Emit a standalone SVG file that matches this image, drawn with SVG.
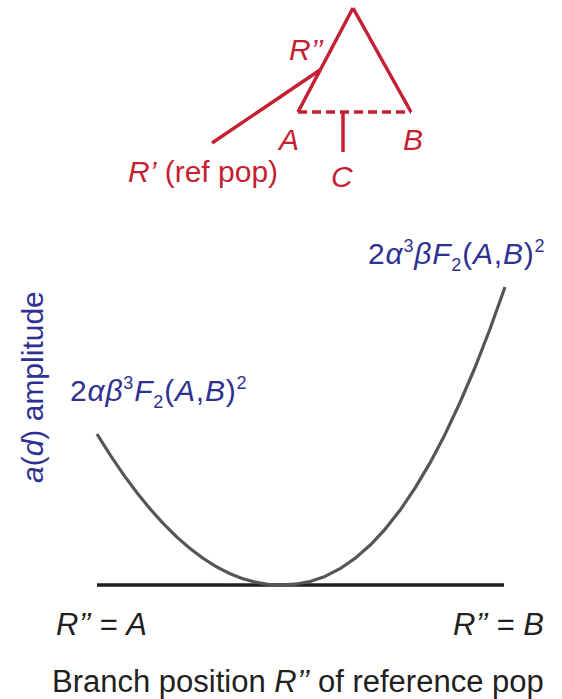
<svg xmlns="http://www.w3.org/2000/svg" width="562" height="699" viewBox="0 0 562 699">
<style>
.red{stroke:#c51f33;stroke-width:3.5;fill:none;stroke-linecap:butt}
.rt{fill:#c51f33;font-family:"Liberation Sans",Arial,sans-serif;font-size:30px}
.bt{fill:#2e3192;font-family:"Liberation Sans",Arial,sans-serif;font-size:30px;letter-spacing:0.8px}
.kt{fill:#231f20;font-family:"Liberation Sans",Arial,sans-serif;font-size:31px}
.i{font-style:italic}
</style>
<rect width="562" height="699" fill="#ffffff"/>
<g id="tree">
  <line class="red" x1="353" y1="8" x2="298" y2="112"/>
  <line class="red" x1="353" y1="8" x2="411" y2="112"/>
  <line class="red" x1="320" y1="70" x2="212" y2="143"/>
  <line class="red" x1="298" y1="112" x2="411" y2="112" stroke-dasharray="9 5"/>
  <line class="red" x1="343" y1="112" x2="343" y2="152"/>
  <text class="rt i" x="289" y="60" font-size="28">R’’</text>
  <text class="rt i" x="279" y="150">A</text>
  <text class="rt i" x="403" y="150">B</text>
  <text class="rt i" x="331" y="187">C</text>
  <text class="rt" x="128" y="182" font-size="31.6"><tspan class="i">R’</tspan> (ref pop)</text>
</g>
<g id="plot">
  <line x1="97" y1="585" x2="504" y2="585" stroke="#231f20" stroke-width="3.5"/>
  <path d="M97 434 Q188.5 585 280 585 L295 584.2 L310 581.5 L325 576.4 L340 568.7 L355 558.4 L370 545.3 L385 529.3 L400 510.3 L415 488.1 L430 462.9 L445 434.4 L460 402.5 L475 367.5 L490 329 L505 287" fill="none" stroke="#555555" stroke-width="3.2" stroke-linejoin="round"/>
</g>
<g id="labels">
  <text class="bt" x="70" y="401">2<tspan class="i">αβ</tspan><tspan dy="-12" font-size="18">3</tspan><tspan class="i" dy="12">F</tspan><tspan dy="7" font-size="18">2</tspan><tspan dy="-7">(</tspan><tspan class="i">A</tspan>,<tspan class="i">B</tspan>)<tspan dy="-12" font-size="18">2</tspan></text>
  <text class="bt" x="368" y="264">2<tspan class="i">α</tspan><tspan dy="-12" font-size="18">3</tspan><tspan class="i" dy="12">βF</tspan><tspan dy="7" font-size="18">2</tspan><tspan dy="-7">(</tspan><tspan class="i">A</tspan>,<tspan class="i">B</tspan>)<tspan dy="-12" font-size="18">2</tspan></text>
  <text class="bt" font-size="31" style="letter-spacing:0" transform="translate(43 483) rotate(-90)"><tspan class="i">a</tspan>(<tspan class="i">d</tspan>) amplitude</text>
  <text class="kt" x="56" y="635"><tspan class="i">R’’</tspan> = <tspan class="i">A</tspan></text>
  <text class="kt" x="453" y="635"><tspan class="i">R’’</tspan> = <tspan class="i">B</tspan></text>
  <text class="kt" x="52" y="692" font-size="33.4">Branch position <tspan class="i">R’’</tspan> of reference pop</text>
</g>
</svg>
